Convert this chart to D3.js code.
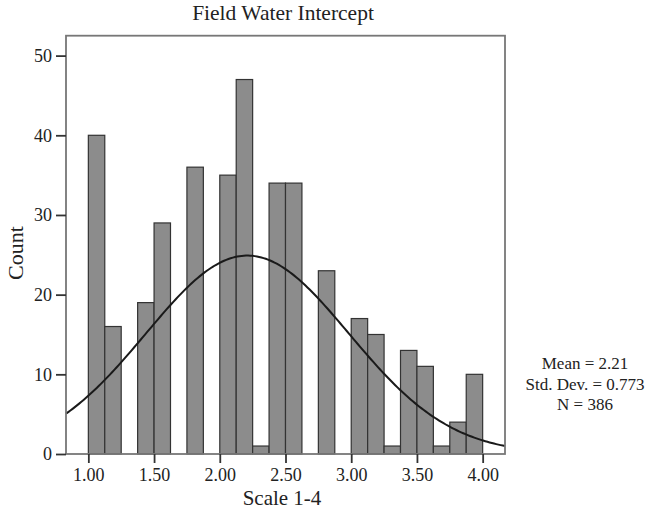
<!DOCTYPE html>
<meta charset="utf-8">
<style>
  html, body { margin:0; padding:0; background:#fff; overflow:hidden }
  text { font-family: "Liberation Serif", "Times New Roman", serif; fill:#222; }
</style>
<svg id="mainsvg" width="651" height="512"></svg>
<script src="https://cdn.jsdelivr.net/npm/d3@7"></script>
<script>

// histogram bins (lower edge) and counts
var binLo  = [1.000, 1.125, 1.375, 1.500, 1.750, 2.000, 2.125, 2.250, 2.375, 2.500,
              2.750, 3.000, 3.125, 3.250, 3.375, 3.500, 3.625, 3.750, 3.875];
var counts = [40, 16, 19, 29, 36, 35, 47, 1, 34, 34,
              23, 17, 15, 1, 13, 11, 1, 4, 10];
var binWidth = 0.125;

var xTicks = [1.00, 1.50, 2.00, 2.50, 3.00, 3.50, 4.00];
var yTicks = [0, 10, 20, 30, 40, 50];

var mean = 2.21, sd = 0.773, n = 386;
var statLines = ["Mean = 2.21", "Std. Dev. = 0.773", "N = 386"];

var svg = d3.select("#mainsvg");

var pLeft = 66, pRight = 505, pTop = 35.7, pBottom = 454;

var x = d3.scaleLinear().domain([0.83, 4.17]).range([pLeft, pRight]);
var y = d3.scaleLinear().domain([0, 52.5]).range([pBottom, pTop]);

// bars
svg.append("g").selectAll("rect")
    .data(binLo)
    .enter().append("rect")
    .attr("x", function(d) { return x(d); })
    .attr("y", function(d, i) { return y(counts[i]); })
    .attr("width", function(d) { return x(d + binWidth) - x(d); })
    .attr("height", function(d, i) { return y(0) - y(counts[i]); })
    .attr("fill", "#8c8c8c")
    .attr("stroke", "#333")
    .attr("stroke-width", 1.2);

// normal curve from mean / sd
var pts = d3.range(0, 201).map(function(k) {
    var xv = 0.83 + (4.17 - 0.83) * k / 200;
    var z = (xv - mean) / sd;
    return [xv, n * binWidth * Math.exp(-0.5 * z * z) / (sd * Math.sqrt(2 * Math.PI))];
});
svg.append("path")
    .datum(pts)
    .attr("fill", "none")
    .attr("stroke", "#1a1a1a")
    .attr("stroke-width", 2)
    .attr("d", d3.line()
        .x(function(d) { return x(d[0]); })
        .y(function(d) { return y(d[1]); }));

// frame
svg.append("rect")
    .attr("x", pLeft).attr("y", pTop)
    .attr("width", pRight - pLeft).attr("height", pBottom - pTop)
    .attr("fill", "none")
    .attr("stroke", "#777")
    .attr("stroke-width", 1.8);

// axes
var yAxis = svg.append("g")
    .attr("transform", "translate(" + pLeft + ",0)")
    .call(d3.axisLeft(y).tickValues(yTicks).tickSize(10).tickPadding(4).tickFormat(d3.format("d")));
var xAxis = svg.append("g")
    .attr("transform", "translate(0," + pBottom + ")")
    .call(d3.axisBottom(x).tickValues(xTicks).tickSize(9).tickPadding(5).tickFormat(d3.format(".2f")));

[yAxis, xAxis].forEach(function(a) {
    a.select(".domain").remove();
    a.selectAll("line").attr("stroke", "#333").attr("stroke-width", 1.8);
    a.selectAll("text")
        .attr("fill", "#333")
        .style("font-family", '"Liberation Serif", serif')
        .style("font-size", "18px");
});

// titles
svg.append("text")
    .attr("x", 283).attr("y", 20)
    .attr("text-anchor", "middle")
    .style("font-size", "21.5px")
    .text("Field Water Intercept");

svg.append("text")
    .attr("x", 282).attr("y", 505)
    .attr("text-anchor", "middle")
    .style("font-size", "21px")
    .text("Scale 1-4");

svg.append("text")
    .attr("transform", "translate(23,253) rotate(-90)")
    .attr("text-anchor", "middle")
    .style("font-size", "22px")
    .text("Count");

// stats
svg.append("g").selectAll("text")
    .data(statLines)
    .enter().append("text")
    .attr("x", 585)
    .attr("y", function(d, i) { return 369 + i * 20.5; })
    .attr("text-anchor", "middle")
    .style("font-size", "17px")
    .text(function(d) { return d; });

</script>
